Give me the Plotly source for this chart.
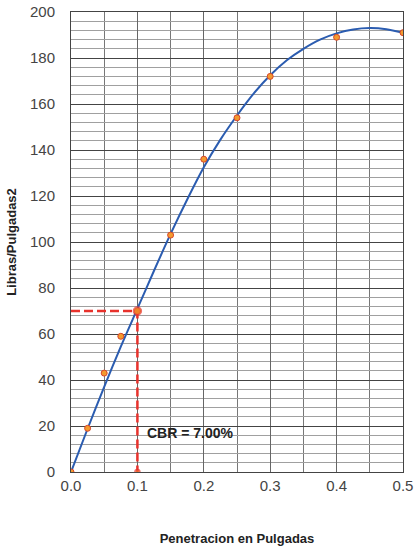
import plotly.graph_objects as go

# Measured points (penetration in inches, pressure in lb/in2)
pen = [0.0, 0.025, 0.05, 0.075, 0.1, 0.15, 0.2, 0.25, 0.3, 0.4, 0.5]
load = [0, 19, 43, 59, 70, 103, 136, 154, 172, 189, 191]

# Fitted trend curve
curve_x = [0.0, 0.025, 0.05, 0.075, 0.1, 0.125, 0.15, 0.175, 0.2, 0.225, 0.25,
           0.275, 0.3, 0.325, 0.35, 0.375, 0.4, 0.425, 0.45, 0.475, 0.5]
curve_y = [0, 18.8, 37, 54.5, 71, 87.5, 103.5, 118.5, 132.5, 144.5, 155,
           164.5, 172.5, 179, 184, 188, 190.7, 192.4, 193, 192.5, 191]

# CBR read-off at 0.1 in
cbr_x = 0.1
cbr_y = 70
cbr_label = "CBR = 7.00%"

x_ticks = [0.0, 0.1, 0.2, 0.3, 0.4, 0.5]
x_ticktext = ["0.0", "0.1", "0.2", "0.3", "0.4", "0.5"]
y_ticks = [0, 20, 40, 60, 80, 100, 120, 140, 160, 180, 200]

fig = go.Figure()

fig.add_trace(go.Scatter(
    x=curve_x, y=curve_y, mode="lines",
    line=dict(color="#2b5cb0", width=2, shape="spline", smoothing=0.8),
    hoverinfo="skip", showlegend=False))

fig.add_trace(go.Scatter(
    x=[0, cbr_x, cbr_x], y=[cbr_y, cbr_y, 0], mode="lines",
    line=dict(color="#e8322c", width=2.5, dash="9px,4px"),
    showlegend=False))

fig.add_trace(go.Scatter(
    x=pen, y=load, mode="markers",
    marker=dict(size=6, color="#f39a2e", line=dict(color="#d8452a", width=1)),
    showlegend=False))

fig.add_trace(go.Scatter(
    x=[cbr_x, cbr_x], y=[cbr_y, 0], mode="markers",
    marker=dict(size=[8, 5], color="#f07a2a", line=dict(color="#e8322c", width=1.5)),
    showlegend=False))

fig.add_annotation(
    x=0.111, y=17, xref="x", yref="y", text="<b>" + cbr_label + "</b>", showarrow=False,
    xanchor="left", yanchor="middle",
    font=dict(family="Arial, Liberation Sans", size=14, color="#222"))

axis_font = dict(family="Arial, Liberation Sans", size=15, color="#444")

fig.update_xaxes(
    range=[0, 0.5], tickvals=x_ticks, ticktext=x_ticktext,
    tickfont=axis_font, automargin=False,
    showgrid=True, gridcolor="#666", gridwidth=1,
    minor=dict(dtick=0.05, showgrid=True, gridcolor="#777", gridwidth=1),
    showline=True, linecolor="#444", linewidth=1, mirror=True,
    zeroline=False, ticks="",
    title=dict(text="<b>Penetracion en Pulgadas</b>",
               font=dict(family="Arial, Liberation Sans", size=13, color="#222"),
               standoff=40))

fig.update_yaxes(
    range=[0, 200], tickvals=y_ticks,
    tickfont=axis_font, automargin=False,
    showgrid=True, gridcolor="#444", gridwidth=1,
    minor=dict(dtick=4, showgrid=True, gridcolor="#a0a0a0", gridwidth=1),
    showline=True, linecolor="#444", linewidth=1, mirror=True,
    zeroline=False, ticks="", ticklabelstandoff=12,
    title=dict(text="<b>Libras/Pulgadas2</b>",
               font=dict(family="Arial, Liberation Sans", size=13, color="#222"),
               standoff=10))

fig.update_layout(
    width=414, height=550,
    margin=dict(l=71, r=11, t=12, b=78),
    paper_bgcolor="white", plot_bgcolor="white",
)

fig.write_html("out.html")
